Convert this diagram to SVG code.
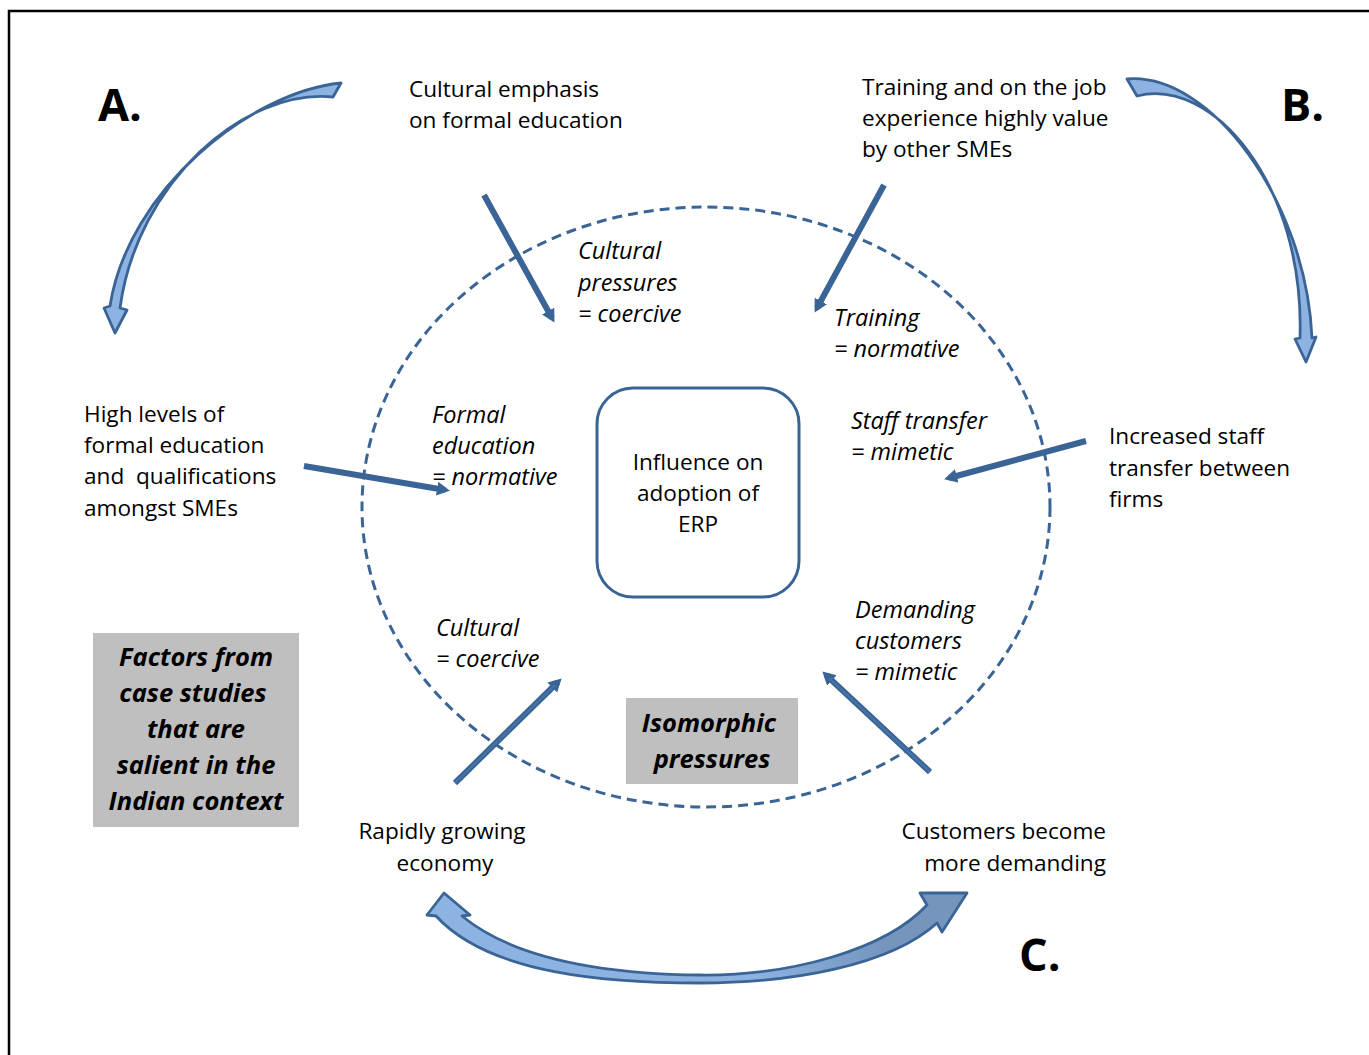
<svg xmlns="http://www.w3.org/2000/svg" width="1369" height="1055" viewBox="0 0 1369 1055">
<defs>
<style>
.t{font-family:"Open Sans","Liberation Sans",sans-serif;font-size:22.6px;fill:#000}
.i{font-family:"Open Sans","Liberation Sans",sans-serif;font-size:23.5px;font-style:italic;fill:#000}
.bi{font-family:"Open Sans","Liberation Sans",sans-serif;font-size:25.5px;font-style:italic;font-weight:bold;fill:#000}
.lab{font-family:"Open Sans","Liberation Sans",sans-serif;font-size:45px;font-weight:bold;fill:#000}
.arr{stroke:#3b6496;stroke-width:6;fill:none}
.curve{fill:#8db3e2;stroke:#3b6496;stroke-width:2.8;stroke-linejoin:round}
</style>
<marker id="ah" markerUnits="userSpaceOnUse" markerWidth="16" markerHeight="16" refX="8" refY="7" orient="auto">
<path d="M0,0 L13,7 L0,14 z" fill="#3b6496"/>
</marker>
<linearGradient id="cg" x1="427" y1="0" x2="967" y2="0" gradientUnits="userSpaceOnUse">
<stop offset="0" stop-color="#8db3e2"/>
<stop offset="0.6" stop-color="#8db3e2"/>
<stop offset="0.85" stop-color="#7595bd"/>
<stop offset="1" stop-color="#7595bd"/>
</linearGradient>
</defs>
<rect width="1369" height="1055" fill="#fff"/>
<path d="M9,1055 L9,11 L1369,11" fill="none" stroke="#000" stroke-width="2.5"/>

<g id="ellipse">
<ellipse cx="706" cy="507" rx="344" ry="300" fill="none" stroke="#3b6496" stroke-width="3" stroke-dasharray="10 6"/>
</g>

<g id="connectors">
<line class="arr" x1="484" y1="195" x2="552" y2="318" marker-end="url(#ah)"/>
<line class="arr" x1="884" y1="185" x2="817" y2="308" marker-end="url(#ah)"/>
<line class="arr" x1="304" y1="466" x2="445" y2="490" marker-end="url(#ah)"/>
<line class="arr" x1="1086" y1="441" x2="949" y2="478" marker-end="url(#ah)"/>
<line class="arr" x1="455" y1="783" x2="558" y2="682" stroke-width="8" marker-end="url(#ah)"/>
<line x1="455" y1="783" x2="555" y2="685" stroke="#4674a6" stroke-width="2"/>
<line class="arr" x1="930" y1="772" x2="826" y2="675" stroke-width="8" marker-end="url(#ah)"/>
<line x1="930" y1="772" x2="829" y2="678" stroke="#4674a6" stroke-width="2"/>
<path id="arrowA" class="curve" d="M341,83 C250,92 128,190 110,306 L104,308 L115,333 L127,310 L120,308 C137,182 245,88 333,97 Z"/>
<path id="arrowB" class="curve" d="M1127,79 C1210,72 1306,200 1312,338 L1316,337 L1306,362 L1295,339 L1300,338 C1305,184 1212,76 1137,96 Z"/>
<path id="arrowC" class="curve" style="fill:url(#cg)" d="M444,893 L470,915 L462,916 C520,964 620,974 700,975 C790,976 885,950 927,905 L920,893 L967,893 L942,932 L937,923 C890,966 790,983 700,983 C610,983 490,975 436,916 L427,915 Z"/>
</g>

<g id="center">
<rect x="597" y="388" width="202" height="209" rx="36" fill="#fff" stroke="#3b6496" stroke-width="3"/>
<text class="t" text-anchor="middle" x="698" y="470">Influence on</text>
<text class="t" text-anchor="middle" x="698" y="501">adoption of</text>
<text class="t" text-anchor="middle" x="698" y="532">ERP</text>
</g>

<g id="factor-cultural-emphasis">
<text class="t" x="409" y="97">Cultural emphasis</text>
<text class="t" x="409" y="128">on formal education</text>
</g>
<g id="factor-training">
<text class="t" x="862" y="95">Training and on the job</text>
<text class="t" x="862" y="126">experience highly value</text>
<text class="t" x="862" y="157">by other SMEs</text>
</g>
<g id="factor-high-levels">
<text class="t" x="84" y="422">High levels of</text>
<text class="t" x="84" y="453">formal education</text>
<text class="t" x="84" y="484" xml:space="preserve">and  qualifications</text>
<text class="t" x="84" y="516">amongst SMEs</text>
</g>
<g id="factor-staff">
<text class="t" x="1109" y="444">Increased staff</text>
<text class="t" x="1109" y="476">transfer between</text>
<text class="t" x="1109" y="507">firms</text>
</g>
<g id="factor-economy">
<text class="t" text-anchor="middle" x="442" y="839">Rapidly growing</text>
<text class="t" text-anchor="middle" x="445" y="871">economy</text>
</g>
<g id="factor-customers">
<text class="t" text-anchor="end" x="1106" y="839">Customers become</text>
<text class="t" text-anchor="end" x="1106" y="871">more demanding</text>
</g>

<g id="p-cultural-pressures">
<text class="i" x="578" y="259">Cultural</text>
<text class="i" x="578" y="291">pressures</text>
<text class="i" x="578" y="322">= coercive</text>
</g>
<g id="p-training">
<text class="i" x="834" y="326">Training</text>
<text class="i" x="834" y="357">= normative</text>
</g>
<g id="p-formal">
<text class="i" x="432" y="423">Formal</text>
<text class="i" x="432" y="454">education</text>
<text class="i" x="432" y="485">= normative</text>
</g>
<g id="p-staff">
<text class="i" x="851" y="429">Staff transfer</text>
<text class="i" x="851" y="460">= mimetic</text>
</g>
<g id="p-cultural">
<text class="i" x="436" y="636">Cultural</text>
<text class="i" x="436" y="667">= coercive</text>
</g>
<g id="p-demanding">
<text class="i" x="855" y="618">Demanding</text>
<text class="i" x="855" y="649">customers</text>
<text class="i" x="855" y="680">= mimetic</text>
</g>

<g id="box-factors">
<rect x="93" y="633" width="206" height="194" fill="#bfbfbf"/>
<text class="bi" text-anchor="middle" x="196" y="666">Factors from</text>
<text class="bi" text-anchor="middle" x="193" y="702">case studies</text>
<text class="bi" text-anchor="middle" x="196" y="738">that are</text>
<text class="bi" text-anchor="middle" x="196" y="774">salient in the</text>
<text class="bi" text-anchor="middle" x="196" y="810">Indian context</text>
</g>
<g id="box-isomorphic">
<rect x="626" y="698" width="172" height="86" fill="#bfbfbf"/>
<text class="bi" text-anchor="middle" x="709" y="732">Isomorphic</text>
<text class="bi" text-anchor="middle" x="712" y="768">pressures</text>
</g>

<g id="labels">
<text class="lab" x="98" y="121">A.</text>
<text class="lab" x="1281" y="121">B.</text>
<text class="lab" x="1019" y="971">C.</text>
</g>
</svg>
